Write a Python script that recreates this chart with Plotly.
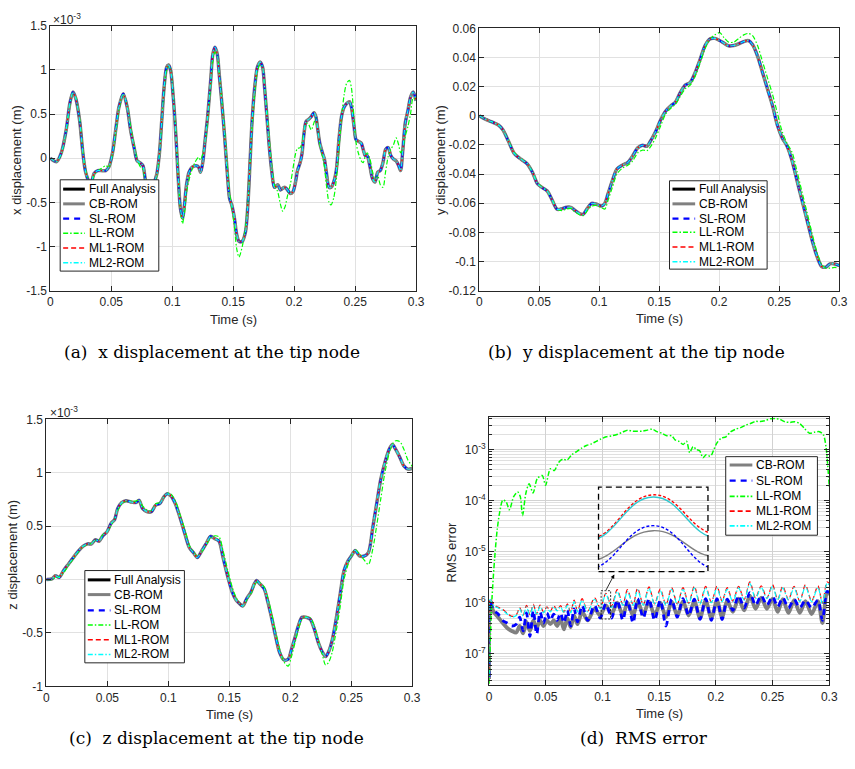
import plotly.graph_objects as go

W, H = 855, 769

# ---------------- (a) x displacement at the tip node (units of 1e-3 m) ----------------
t_x = [0.000, 0.005, 0.009, 0.013, 0.016, 0.0186, 0.021, 0.024, 0.0267, 0.029,
       0.033, 0.036, 0.039, 0.0415, 0.0455, 0.048, 0.051, 0.0536, 0.0563, 0.0598,
       0.063, 0.0658, 0.069, 0.0712, 0.0739, 0.076, 0.078, 0.081, 0.084, 0.0873,
       0.0895, 0.0914, 0.0933, 0.0954, 0.097, 0.0987, 0.1008, 0.103, 0.1049, 0.1067,
       0.1084, 0.110, 0.1116, 0.1137, 0.1164, 0.1197, 0.1216, 0.1232, 0.125, 0.127,
       0.129, 0.1315, 0.1332, 0.135, 0.137, 0.1385, 0.1407, 0.1429, 0.1453, 0.147,
       0.1488, 0.151, 0.1528, 0.1547, 0.1574, 0.1601, 0.1623, 0.1639, 0.1655, 0.1676,
       0.1698, 0.172, 0.1741, 0.1757, 0.1774, 0.1795, 0.1817, 0.1838, 0.1865, 0.1887,
       0.1906, 0.1925, 0.1946, 0.1968, 0.199, 0.2011, 0.2027, 0.2049, 0.2065, 0.2081,
       0.2097, 0.2119, 0.214, 0.2162, 0.2178, 0.2194, 0.221, 0.2232, 0.2248, 0.2264,
       0.2286, 0.2302, 0.2324, 0.2345, 0.2367, 0.2388, 0.241, 0.2431, 0.2453, 0.2469,
       0.2491, 0.2507, 0.2528, 0.255, 0.2566, 0.2582, 0.2598, 0.262, 0.2642, 0.2663,
       0.2685, 0.2706, 0.2728, 0.275, 0.2771, 0.2792, 0.2814, 0.2836, 0.2857, 0.2873,
       0.2889, 0.2911, 0.2933, 0.2954, 0.2976, 0.300]
x_full = [0.00, -0.04, 0.06, 0.32, 0.62, 0.75, 0.67, 0.43, 0.06, -0.16,
          -0.30, -0.17, -0.14, -0.14, -0.14, -0.10, 0.06, 0.32, 0.58, 0.73,
          0.58, 0.32, 0.10, -0.03, -0.055, -0.085, -0.25, -0.40, -0.32, -0.18,
          0.06, 0.43, 0.80, 1.03, 1.055, 0.99, 0.69, 0.25, -0.23, -0.57,
          -0.68, -0.53, -0.31, -0.16, -0.10, -0.085, -0.10, -0.16, -0.05, 0.21,
          0.47, 0.88, 1.17, 1.255, 1.17, 0.95, 0.62, 0.25, -0.20, -0.455,
          -0.53, -0.68, -0.86, -0.94, -0.94, -0.83, -0.46, -0.01, 0.43, 0.80,
          1.03, 1.09, 1.03, 0.80, 0.51, 0.14, -0.16, -0.33, -0.30, -0.36,
          -0.34, -0.33, -0.36, -0.40, -0.38, -0.27, -0.14, -0.05, 0.06, 0.285,
          0.415, 0.44, 0.47, 0.515, 0.47, 0.32, 0.17, 0.06, -0.01, -0.16,
          -0.33, -0.33, -0.27, -0.14, 0.21, 0.47, 0.58, 0.62, 0.64, 0.58,
          0.36, 0.21, 0.19, 0.17, 0.10, 0.03, 0.03, -0.085, -0.23, -0.27,
          -0.16, -0.14, -0.05, 0.10, 0.12, 0.03, -0.01, -0.03, -0.085, -0.14,
          0.06, 0.40, 0.54, 0.69, 0.75, 0.65]
x_ll = [0.00, -0.04, 0.05, 0.30, 0.60, 0.74, 0.68, 0.45, 0.08, -0.14,
        -0.30, -0.19, -0.14, -0.12, -0.085, -0.10, 0.04, 0.28, 0.55, 0.72,
        0.60, 0.36, 0.13, -0.01, -0.10, -0.13, -0.27, -0.42, -0.34, -0.20,
        0.03, 0.40, 0.77, 1.00, 1.04, 1.00, 0.72, 0.30, -0.18, -0.58,
        -0.74, -0.62, -0.40, -0.25, -0.12, -0.02, 0.01, -0.02, 0.05, 0.18,
        0.42, 0.82, 1.10, 1.20, 1.16, 0.98, 0.66, 0.32, -0.12, -0.40,
        -0.55, -0.78, -1.02, -1.12, -1.00, -0.78, -0.45, -0.05, 0.35, 0.72,
        0.98, 1.06, 1.03, 0.85, 0.58, 0.22, -0.10, -0.30, -0.38, -0.52,
        -0.60, -0.55, -0.42, -0.30, -0.12, 0.05, 0.11, 0.12, 0.18, 0.30,
        0.40, 0.38, 0.32, 0.40, 0.45, 0.33, 0.15, 0.02, -0.10, -0.30,
        -0.50, -0.53, -0.45, -0.25, 0.10, 0.45, 0.72, 0.85, 0.88, 0.80,
        0.45, 0.18, 0.05, -0.03, -0.05, 0.02, 0.06, 0.00, -0.15, -0.25,
        -0.20, -0.30, -0.33, -0.15, 0.02, 0.10, 0.15, 0.23, 0.15, 0.06,
        0.10, 0.25, 0.36, 0.50, 0.68, 0.66]

# ---------------- (b) y displacement at the tip node (m) ----------------
t_y = [0.0, 0.0047, 0.010, 0.016, 0.0197, 0.0244, 0.0293, 0.0348, 0.0397, 0.0444,
       0.0485, 0.0526, 0.0567, 0.0608, 0.0649, 0.069, 0.0726, 0.0764, 0.080, 0.0841,
       0.0868, 0.0901, 0.0937, 0.0973, 0.1019, 0.1047, 0.1074, 0.111, 0.1148, 0.1192,
       0.1238, 0.1279, 0.1321, 0.1362, 0.1397, 0.143, 0.1471, 0.1512, 0.1553, 0.1595,
       0.1636, 0.1677, 0.1718, 0.1759, 0.180, 0.1841, 0.1882, 0.1923, 0.1964, 0.2005,
       0.2041, 0.2079, 0.2123, 0.2162, 0.2205, 0.2244, 0.2279, 0.2321, 0.2362, 0.2403,
       0.2444, 0.2485, 0.2526, 0.2567, 0.2608, 0.2649, 0.269, 0.2732, 0.2773, 0.2814,
       0.2855, 0.289, 0.2923, 0.2964, 0.300]
y_full = [0.0, -0.0022, -0.004, -0.0063, -0.0096, -0.0175, -0.026, -0.0298, -0.0327, -0.0388,
          -0.0466, -0.0493, -0.0516, -0.0578, -0.0641, -0.0637, -0.0628, -0.0628, -0.065, -0.0673,
          -0.0675, -0.0635, -0.0601, -0.0605, -0.0619, -0.0601, -0.0534, -0.0444, -0.0365, -0.0339,
          -0.0321, -0.0276, -0.022, -0.0202, -0.0209, -0.017, -0.0108, -0.0029, 0.0031, 0.0067,
          0.0094, 0.0161, 0.0211, 0.0229, 0.0296, 0.0386, 0.048, 0.0527, 0.0531, 0.0516,
          0.0498, 0.048, 0.0482, 0.0493, 0.0509, 0.0516, 0.0487, 0.0408, 0.0296, 0.0184,
          0.0072, -0.0063, -0.0152, -0.0209, -0.0309, -0.0444, -0.0578, -0.0713, -0.0848, -0.096,
          -0.1034, -0.1038, -0.1016, -0.1016, -0.1027]
y_ll = [0.0, -0.0022, -0.004, -0.0063, -0.0096, -0.017, -0.0255, -0.0295, -0.0325, -0.0385,
        -0.046, -0.049, -0.0515, -0.0575, -0.064, -0.065, -0.064, -0.0635, -0.066, -0.068,
        -0.0685, -0.065, -0.062, -0.0615, -0.063, -0.064, -0.058, -0.049, -0.040, -0.036,
        -0.034, -0.031, -0.0255, -0.0235, -0.024, -0.021, -0.015, -0.007, 0.001, 0.005,
        0.008, 0.0135, 0.0185, 0.021, 0.027, 0.036, 0.046, 0.0525, 0.0555, 0.057,
        0.0535, 0.0505, 0.0505, 0.053, 0.0555, 0.0565, 0.055, 0.048, 0.037, 0.026,
        0.015, 0.002, -0.011, -0.019, -0.025, -0.038, -0.052, -0.066, -0.080, -0.093,
        -0.102, -0.1045, -0.1045, -0.104, -0.1045]

# ---------------- (c) z displacement at the tip node (units of 1e-3 m) ----------------
t_z = [0.0, 0.0046, 0.0073, 0.0105, 0.014, 0.018, 0.0221, 0.0262, 0.0302, 0.0337,
       0.037, 0.0402, 0.0432, 0.0464, 0.0499, 0.0531, 0.0558, 0.0585, 0.0618, 0.0653,
       0.0693, 0.0734, 0.0761, 0.0788, 0.0828, 0.0861, 0.0896, 0.0931, 0.0963, 0.099,
       0.1022, 0.1057, 0.1098, 0.1138, 0.1173, 0.1206, 0.1238, 0.1273, 0.1314, 0.1346,
       0.1381, 0.1416, 0.1449, 0.1489, 0.1524, 0.1557, 0.1583, 0.161, 0.1643, 0.1678,
       0.1705, 0.1724, 0.1751, 0.1786, 0.1813, 0.1848, 0.188, 0.1913, 0.1948, 0.1983,
       0.201, 0.2042, 0.2069, 0.2096, 0.2128, 0.2164, 0.2199, 0.2231, 0.2263, 0.229,
       0.2317, 0.2344, 0.2371, 0.2406, 0.2441, 0.2474, 0.2501, 0.2533, 0.2568, 0.2609,
       0.2641, 0.2676, 0.2711, 0.2743, 0.2776, 0.2811, 0.2838, 0.2865, 0.290, 0.2932,
       0.2965, 0.300]
z_full = [0.0, 0.006, 0.037, 0.02, 0.083, 0.144, 0.206, 0.267, 0.313, 0.334,
          0.334, 0.374, 0.359, 0.411, 0.451, 0.528, 0.558, 0.666, 0.721, 0.739,
          0.727, 0.721, 0.742, 0.666, 0.635, 0.635, 0.696, 0.712, 0.773, 0.804,
          0.782, 0.712, 0.574, 0.420, 0.298, 0.252, 0.206, 0.267, 0.344, 0.405,
          0.383, 0.359, 0.206, 0.021, -0.117, -0.193, -0.224, -0.248, -0.178, -0.117,
          -0.040, -0.009, -0.040, -0.086, -0.193, -0.362, -0.531, -0.684, -0.752, -0.745,
          -0.653, -0.531, -0.423, -0.353, -0.353, -0.371, -0.469, -0.592, -0.678, -0.721,
          -0.669, -0.567, -0.408, -0.163, 0.083, 0.175, 0.221, 0.273, 0.221, 0.221,
          0.252, 0.482, 0.727, 0.942, 1.095, 1.218, 1.264, 1.218, 1.141, 1.064,
          1.034, 1.040]
z_ll = [0.0, 0.0, 0.02, 0.025, 0.06, 0.13, 0.195, 0.26, 0.31, 0.33,
        0.34, 0.37, 0.37, 0.42, 0.45, 0.51, 0.56, 0.65, 0.71, 0.735,
        0.735, 0.735, 0.745, 0.69, 0.65, 0.64, 0.71, 0.72, 0.77, 0.81,
        0.80, 0.74, 0.60, 0.46, 0.32, 0.26, 0.22, 0.26, 0.33, 0.39,
        0.41, 0.40, 0.27, 0.08, -0.07, -0.17, -0.22, -0.25, -0.19, -0.13,
        -0.06, -0.02, -0.03, -0.07, -0.16, -0.32, -0.49, -0.65, -0.77, -0.81,
        -0.72, -0.58, -0.46, -0.37, -0.35, -0.36, -0.44, -0.57, -0.70, -0.80,
        -0.77, -0.68, -0.52, -0.28, 0.00, 0.14, 0.22, 0.28, 0.24, 0.18,
        0.14, 0.28, 0.52, 0.76, 1.00, 1.18, 1.27, 1.30, 1.29, 1.22,
        1.12, 1.06]

# ---------------- (d) RMS error ----------------
t_rms = [0.000, 0.001, 0.004, 0.008, 0.012, 0.016, 0.020, 0.024,
         0.027, 0.030, 0.033, 0.036, 0.039, 0.042, 0.045, 0.048, 0.051, 0.054,
         0.057, 0.060, 0.063, 0.066, 0.069, 0.072, 0.075, 0.078, 0.082, 0.087,
         0.093, 0.098, 0.103, 0.108, 0.113, 0.118, 0.122, 0.127, 0.131, 0.136,
         0.141, 0.146, 0.151, 0.156, 0.161, 0.166, 0.171, 0.176, 0.181, 0.186,
         0.191, 0.196, 0.201, 0.2055, 0.210, 0.215, 0.220, 0.225, 0.230, 0.235,
         0.240, 0.245, 0.250, 0.2545, 0.259, 0.264, 0.269, 0.274, 0.279, 0.2845,
         0.290, 0.294, 0.298, 0.300]
rms_cb = [3.2e-8, 1.0e-6, 6.6e-7, 5.2e-7, 4.0e-7, 3.2e-7, 2.8e-7, 2.6e-7,
          3.5e-7, 2.5e-7, 4.2e-7, 2.8e-7, 4.5e-7, 3.2e-7, 4.5e-7, 3.5e-7, 4.5e-7, 3.8e-7,
          4.5e-7, 3.5e-7, 4.8e-7, 3.0e-7, 5.0e-7, 3.3e-7, 5.6e-7, 3.8e-7, 6.6e-7, 4.5e-7,
          7.6e-7, 5.6e-7, 8.9e-7, 6.0e-7, 1.0e-6, 5.6e-7, 1.0e-6, 5.6e-7, 1.05e-6, 6.0e-7,
          1.05e-6, 5.6e-7, 1.0e-6, 5.2e-7, 1.05e-6, 5.6e-7, 1.07e-6, 5.6e-7, 1.07e-6, 5.0e-7,
          1.10e-6, 5.0e-7, 1.10e-6, 5.2e-7, 1.10e-6, 6.6e-7, 1.20e-6, 7.1e-7, 1.38e-6, 7.6e-7,
          1.26e-6, 7.6e-7, 1.20e-6, 6.6e-7, 1.17e-6, 6.3e-7, 1.12e-6, 6.3e-7, 1.07e-6, 6.0e-7,
          1.07e-6, 4.0e-7, 1.51e-6, 1.48e-6]
rms_sl = [3.5e-8, 1.07e-6, 7.1e-7, 6.0e-7, 4.5e-7, 4.0e-7, 3.5e-7, 3.8e-7,
          5.2e-7, 2.8e-7, 6.3e-7, 2.2e-7, 7.1e-7, 2.4e-7, 6.6e-7, 4.0e-7, 6.3e-7, 4.5e-7,
          6.0e-7, 4.5e-7, 6.3e-7, 4.0e-7, 7.1e-7, 3.5e-7, 7.6e-7, 4.2e-7, 8.9e-7, 4.5e-7,
          8.9e-7, 5.0e-7, 9.6e-7, 5.0e-7, 1.12e-6, 4.5e-7, 1.12e-6, 4.0e-7, 1.20e-6, 5.0e-7,
          1.20e-6, 4.5e-7, 1.12e-6, 3.5e-7, 1.17e-6, 5.2e-7, 1.20e-6, 5.6e-7, 1.17e-6, 4.7e-7,
          1.20e-6, 4.5e-7, 1.20e-6, 4.7e-7, 1.17e-6, 7.1e-7, 1.38e-6, 7.9e-7, 1.58e-6, 8.9e-7,
          1.38e-6, 8.9e-7, 1.32e-6, 8.3e-7, 1.26e-6, 7.9e-7, 1.17e-6, 7.9e-7, 1.12e-6, 7.9e-7,
          1.12e-6, 4.5e-7, 1.66e-6, 1.58e-6]
rms_ml1 = [5.0e-8, 1.20e-6, 9.3e-7, 8.1e-7, 7.4e-7, 6.2e-7, 5.4e-7, 5.8e-7,
           8.0e-7, 5.7e-7, 8.9e-7, 5.8e-7, 9.3e-7, 6.0e-7, 9.0e-7, 6.5e-7, 8.3e-7, 6.8e-7,
           8.8e-7, 7.1e-7, 8.8e-7, 6.5e-7, 9.5e-7, 6.5e-7, 1.12e-6, 6.8e-7, 1.20e-6, 6.8e-7,
           1.25e-6, 7.8e-7, 1.53e-6, 8.5e-7, 1.80e-6, 9.1e-7, 1.80e-6, 9.1e-7, 1.92e-6, 9.1e-7,
           2.05e-6, 9.5e-7, 1.85e-6, 9.1e-7, 1.97e-6, 9.5e-7, 1.97e-6, 9.7e-7, 2.10e-6, 9.5e-7,
           2.10e-6, 1.02e-6, 2.10e-6, 1.07e-6, 1.97e-6, 1.07e-6, 2.10e-6, 1.15e-6, 2.55e-6, 1.23e-6,
           2.15e-6, 1.23e-6, 2.25e-6, 1.15e-6, 2.10e-6, 1.15e-6, 2.10e-6, 1.07e-6, 2.25e-6, 1.07e-6,
           2.15e-6, 9.7e-7, 2.55e-6, 2.40e-6]
rms_ml2 = [4.0e-8, 1.17e-6, 8.9e-7, 7.9e-7, 7.1e-7, 6.0e-7, 5.2e-7, 5.6e-7,
           7.6e-7, 5.5e-7, 8.3e-7, 5.6e-7, 8.7e-7, 5.8e-7, 8.5e-7, 6.3e-7, 7.9e-7, 6.6e-7,
           8.3e-7, 6.9e-7, 8.3e-7, 6.3e-7, 8.9e-7, 6.3e-7, 1.05e-6, 6.6e-7, 1.12e-6, 6.6e-7,
           1.17e-6, 7.6e-7, 1.48e-6, 8.0e-7, 1.66e-6, 8.9e-7, 1.66e-6, 8.9e-7, 1.78e-6, 8.9e-7,
           1.91e-6, 9.3e-7, 1.70e-6, 8.9e-7, 1.82e-6, 9.3e-7, 1.82e-6, 9.5e-7, 1.95e-6, 9.3e-7,
           1.95e-6, 1.0e-6, 1.95e-6, 1.05e-6, 1.82e-6, 1.05e-6, 1.95e-6, 1.12e-6, 2.40e-6, 1.20e-6,
           2.0e-6, 1.20e-6, 2.09e-6, 1.12e-6, 1.95e-6, 1.12e-6, 1.95e-6, 1.05e-6, 2.09e-6, 1.05e-6,
           2.0e-6, 9.5e-7, 2.40e-6, 2.24e-6]
t_rms_ll = [0.0, 0.0012, 0.0026, 0.0049, 0.0072, 0.0093, 0.0121, 0.015, 0.0179, 0.0217,
            0.0252, 0.0275, 0.0295, 0.0324, 0.0353, 0.0388, 0.0425, 0.0469, 0.0498, 0.0541,
            0.0576, 0.0613, 0.0651, 0.0686, 0.0729, 0.0772, 0.0816, 0.0859, 0.0903, 0.0946,
            0.0989, 0.1033, 0.1085, 0.1134, 0.1177, 0.1221, 0.1264, 0.1307, 0.1351, 0.1394,
            0.1438, 0.1481, 0.1524, 0.1568, 0.1611, 0.164, 0.1675, 0.1712, 0.1741, 0.177,
            0.1799, 0.1828, 0.1857, 0.1886, 0.1915, 0.1953, 0.1982, 0.201, 0.2045, 0.2089,
            0.2132, 0.2175, 0.2219, 0.2262, 0.2305, 0.2349, 0.2392, 0.2436, 0.2479, 0.2522,
            0.2566, 0.2609, 0.2653, 0.2696, 0.2739, 0.2783, 0.2826, 0.287, 0.2913, 0.2948,
            0.2971, 0.2988, 0.300]
rms_ll = [2.6e-8, 2.2e-7, 1.26e-6, 7.4e-6, 2.75e-5, 5.8e-5, 1.02e-4, 9.5e-5, 6.6e-5, 1.20e-4,
          1.48e-4, 1.20e-4, 5.1e-5, 1.38e-4, 2.14e-4, 1.41e-4, 2.7e-4, 3.1e-4, 2.0e-4, 4.2e-4,
          3.9e-4, 5.6e-4, 6.5e-4, 6.2e-4, 7.9e-4, 9.1e-4, 1.07e-3, 1.20e-3, 1.29e-3, 1.45e-3,
          1.62e-3, 1.78e-3, 1.86e-3, 2.0e-3, 2.19e-3, 2.40e-3, 2.29e-3, 2.29e-3, 2.29e-3, 2.40e-3,
          2.51e-3, 2.24e-3, 2.09e-3, 1.86e-3, 1.86e-3, 1.55e-3, 1.45e-3, 1.26e-3, 1.45e-3, 8.7e-4,
          1.15e-3, 1.0e-3, 9.5e-4, 6.9e-4, 7.9e-4, 7.4e-4, 1.0e-3, 1.35e-3, 1.66e-3, 1.78e-3,
          2.24e-3, 2.51e-3, 2.69e-3, 3.0e-3, 3.24e-3, 3.55e-3, 3.55e-3, 3.7e-3, 4.0e-3, 4.05e-3,
          3.9e-3, 3.5e-3, 3.4e-3, 3.5e-3, 3.24e-3, 2.57e-3, 2.09e-3, 2.19e-3, 2.24e-3, 1.95e-3,
          1.15e-3, 4.5e-4, 1.86e-4]

# zoomed window shown in the inset of (d)
inset_t_range = [0.0988, 0.1072]
inset_v_range = [4.8e-7, 1.72e-6]

# ---------------- ticks ----------------
time_ticks = [0, 0.05, 0.1, 0.15, 0.2, 0.25, 0.3]
time_tick_text = ["0", "0.05", "0.1", "0.15", "0.2", "0.25", "0.3"]
xa_ticks = [-1.5, -1, -0.5, 0, 0.5, 1, 1.5]
xa_tick_text = ["-1.5", "-1", "-0.5", "0", "0.5", "1", "1.5"]
yb_ticks = [-0.12, -0.10, -0.08, -0.06, -0.04, -0.02, 0, 0.02, 0.04, 0.06]
yb_tick_text = ["-0.12", "-0.1", "-0.08", "-0.06", "-0.04", "-0.02", "0", "0.02", "0.04", "0.06"]
zc_ticks = [-1, -0.5, 0, 0.5, 1, 1.5]
zc_tick_text = ["-1", "-0.5", "0", "0.5", "1", "1.5"]
rms_ticks = [1e-7, 1e-6, 1e-5, 1e-4, 1e-3]
rms_tick_text = ["10<sup>-7</sup>", "10<sup>-6</sup>", "10<sup>-5</sup>",
                 "10<sup>-4</sup>", "10<sup>-3</sup>"]
rms_minor = [k * 10.0 ** e for e in range(-8, -2) for k in range(2, 10)]

SANS = "Liberation Sans, Arial, Helvetica, sans-serif"
SERIF = "DejaVu Serif, serif"
INK = "#262626"

STYLE = {
    "Full Analysis": dict(color="#000000", width=2.5, dash="solid"),
    "CB-ROM": dict(color="#808080", width=3.5, dash="solid"),
    "SL-ROM": dict(color="#0000ff", width=2, dash="6px,5px"),
    "LL-ROM": dict(color="#00ff00", width=1.2, dash="5px,2px,1.5px,2px"),
    "ML1-ROM": dict(color="#ff0000", width=1.1, dash="5px,3px"),
    "ML2-ROM": dict(color="#00ffff", width=1.1, dash="5px,2px,1.5px,2px"),
}
LEGEND_WIDTH = {"Full Analysis": 3, "CB-ROM": 3, "SL-ROM": 2.2,
                "LL-ROM": 1.6, "ML1-ROM": 1.6, "ML2-ROM": 1.6}
INSET_STYLE = {
    "CB-ROM": dict(color="#808080", width=1.4, dash="solid"),
    "SL-ROM": dict(color="#0000ff", width=1.4, dash="3px,2px"),
    "ML1-ROM": dict(color="#ff0000", width=1.4, dash="3px,2px"),
    "ML2-ROM": dict(color="#2ec8cf", width=1.4, dash="solid"),
}


def px_x(v):
    return v / W


def px_y(v):
    return 1 - v / H


fig = go.Figure()


def add_series(t, vals, name, xa, ya, width=None, style=None, smoothing=0.8):
    st = dict(style or STYLE[name])
    fig.add_trace(go.Scatter(
        x=t, y=vals, mode="lines", name=name, xaxis=xa, yaxis=ya,
        line=dict(color=st["color"], width=width or st["width"], dash=st["dash"],
                  shape="spline", smoothing=smoothing),
        showlegend=False, hoverinfo="skip"))


# (a), (b), (c): full analysis and the five reduced-order models
for (t, full, ll, xa, ya) in [(t_x, x_full, x_ll, "x", "y"),
                              (t_y, y_full, y_ll, "x2", "y2"),
                              (t_z, z_full, z_ll, "x3", "y3")]:
    add_series(t, full, "Full Analysis", xa, ya)
    add_series(t, full, "CB-ROM", xa, ya)
    add_series(t, full, "SL-ROM", xa, ya)
    add_series(t, ll, "LL-ROM", xa, ya)
    add_series(t, full, "ML1-ROM", xa, ya)
    add_series(t, full, "ML2-ROM", xa, ya)

# (d): RMS errors
add_series(t_rms, rms_cb, "CB-ROM", "x4", "y4", width=3.8)
add_series(t_rms, rms_sl, "SL-ROM", "x4", "y4", width=2.8)
add_series(t_rms_ll, rms_ll, "LL-ROM", "x4", "y4", width=1.5)
add_series(t_rms, rms_ml1, "ML1-ROM", "x4", "y4", width=1.2)
add_series(t_rms, rms_ml2, "ML2-ROM", "x4", "y4", width=1.2)

# small window marking the zoomed region
fig.add_trace(go.Scatter(
    x=[inset_t_range[0], inset_t_range[1], inset_t_range[1], inset_t_range[0], inset_t_range[0]],
    y=[inset_v_range[0], inset_v_range[0], inset_v_range[1], inset_v_range[1], inset_v_range[0]],
    mode="lines", xaxis="x4", yaxis="y4", line=dict(color="#000000", width=0.8, dash="2px,1.5px"),
    showlegend=False, hoverinfo="skip"))

# inset: magnified view of the same series
for name, vals in [("CB-ROM", rms_cb), ("SL-ROM", rms_sl), ("ML1-ROM", rms_ml1), ("ML2-ROM", rms_ml2)]:
    add_series(t_rms, vals, name, "x5", "y5", style=INSET_STYLE[name], smoothing=1.3)


def axis(domain, rng, tickvals, ticktext, **kw):
    d = dict(domain=domain, range=rng, tickmode="array", tickvals=tickvals, ticktext=ticktext,
             showline=True, linecolor=INK, linewidth=1, mirror="ticks", ticks="inside",
             ticklen=5, tickcolor=INK, tickfont=dict(size=12, color=INK, family=SANS),
             showgrid=True, gridcolor="#e1e1e1", gridwidth=1, zeroline=False, fixedrange=True)
    d.update(kw)
    return d


A = dict(x=(48, 419), y=(19, 289))
B = dict(x=(483, 848), y=(21.7, 289))
C = dict(x=(44, 415), y=(420, 692))
D = dict(x=(493, 838), y=(418, 691))
INSET = dict(x=(604, 715), y=(489, 575))


def xdom(p):
    return [px_x(p["x"][0]), px_x(p["x"][1])]


def ydom(p):
    return [px_y(p["y"][1]), px_y(p["y"][0])]


fig.update_layout(
    xaxis=axis(xdom(A), [0, 0.3], time_ticks, time_tick_text, anchor="y"),
    yaxis=axis(ydom(A), [-1.5, 1.5], xa_ticks, xa_tick_text, anchor="x"),
    xaxis2=axis(xdom(B), [0, 0.3], time_ticks, time_tick_text, anchor="y2"),
    yaxis2=axis(ydom(B), [-0.12, 0.06], yb_ticks, yb_tick_text, anchor="x2"),
    xaxis3=axis(xdom(C), [0, 0.3], time_ticks, time_tick_text, anchor="y3"),
    yaxis3=axis(ydom(C), [-1, 1.5], zc_ticks, zc_tick_text, anchor="x3"),
    xaxis4=axis(xdom(D), [0, 0.3], time_ticks, time_tick_text, anchor="y4",
                gridcolor="#d2d2d2"),
    yaxis4=axis(ydom(D), [-7.62, -2.37], rms_ticks, rms_tick_text, anchor="x4", type="log",
                gridcolor="#d2d2d2",
                minor=dict(tickmode="array", tickvals=rms_minor, ticks="inside", ticklen=3,
                           tickcolor=INK, showgrid=True, gridcolor="#e0e0e0", gridwidth=1)),
    xaxis5=dict(domain=xdom(INSET), range=inset_t_range, anchor="y5", visible=False,
                fixedrange=True),
    yaxis5=dict(domain=ydom(INSET), type="log", anchor="x5", visible=False, fixedrange=True,
                range=[-6.3188, -5.7645]),
)

shapes = []
annotations = []

# inset frame
shapes.append(dict(type="rect", xref="x5 domain", yref="y5 domain", x0=0, x1=1, y0=0, y1=1,
                   line=dict(color="#000000", width=1.3, dash="6px,4px"), layer="above"))


# legends
def legend(box, rows, line_x, text_x, names):
    x0, y0, x1, y1 = box
    shapes.append(dict(type="rect", xref="paper", yref="paper",
                       x0=px_x(x0), x1=px_x(x1), y0=px_y(y1), y1=px_y(y0),
                       line=dict(color=INK, width=1), fillcolor="white", layer="above"))
    for name, ry in zip(names, rows):
        st = STYLE[name]
        shapes.append(dict(type="line", xref="paper", yref="paper",
                           x0=px_x(line_x[0]), x1=px_x(line_x[1]), y0=px_y(ry), y1=px_y(ry),
                           line=dict(color=st["color"], width=LEGEND_WIDTH[name], dash=st["dash"]),
                           layer="above"))
        annotations.append(dict(x=px_x(text_x), y=px_y(ry), xref="paper", yref="paper",
                                text=name, showarrow=False, xanchor="left", yanchor="middle",
                                font=dict(size=12, color="#000000", family=SANS)))


names6 = ["Full Analysis", "CB-ROM", "SL-ROM", "LL-ROM", "ML1-ROM", "ML2-ROM"]
legend((58, 176, 158, 269), [185.5, 200.5, 215.5, 230.5, 245.5, 260.5], (61, 83), 85.5, names6)
legend((676, 177, 775, 267), [185.5, 200.5, 215.5, 229.5, 244.5, 259.5], (679, 702), 703.5, names6)
legend((83, 574, 184, 668), [583.5, 598.5, 614.5, 629.5, 644.5, 659.5], (86, 109), 110.5, names6)
legend((733, 458, 826, 538), [466.5, 482.5, 498.5, 513.5, 528.5], (737, 760), 762, names6[1:])


def text(x, y, s, size=13, angle=0, family=SANS, color=INK, xanchor="center"):
    annotations.append(dict(x=px_x(x), y=px_y(y), xref="paper", yref="paper", text=s,
                            showarrow=False, xanchor=xanchor, yanchor="middle", textangle=angle,
                            font=dict(size=size, color=color, family=family)))


# axis titles
text(233.5, 318, "Time (s)")
text(665.5, 317, "Time (s)")
text(229.5, 721, "Time (s)")
text(665.5, 720, "Time (s)")
text(13, 156, "x displacement (m)", angle=-90)
text(443, 156, "y displacement (m)", angle=-90)
text(10, 558, "z displacement (m)", angle=-90)
text(455, 555, "RMS error", angle=-90)

# exponent multipliers
text(49, 12, "\u00d710<sup>-3</sup>", size=12, xanchor="left")
text(46, 413, "\u00d710<sup>-3</sup>", size=12, xanchor="left")

# captions
text(212, 351, "(a)\u00a0 x displacement at the tip node", size=17, family=SERIF, color="#000000")
text(643, 351, "(b)\u00a0 y displacement at the tip node", size=17, family=SERIF, color="#000000")
text(217, 745, "(c)\u00a0 z displacement at the tip node", size=17, family=SERIF, color="#000000")
text(650, 745, "(d)\u00a0 RMS error", size=17, family=SERIF, color="#000000")

# arrow from the zoom window to the inset
annotations.append(dict(x=px_x(620), y=px_y(578), xref="paper", yref="paper", text="",
                        showarrow=True, ax=-9, ay=17, arrowhead=2, arrowsize=1,
                        arrowwidth=0.8, arrowcolor="#000000"))

fig.update_layout(
    width=W, height=H, margin=dict(l=0, r=0, t=0, b=0),
    paper_bgcolor="white", plot_bgcolor="rgba(0,0,0,0)",
    font=dict(family=SANS, size=12, color=INK),
    showlegend=False, shapes=shapes, annotations=annotations,
)

fig.write_html("out.html")
